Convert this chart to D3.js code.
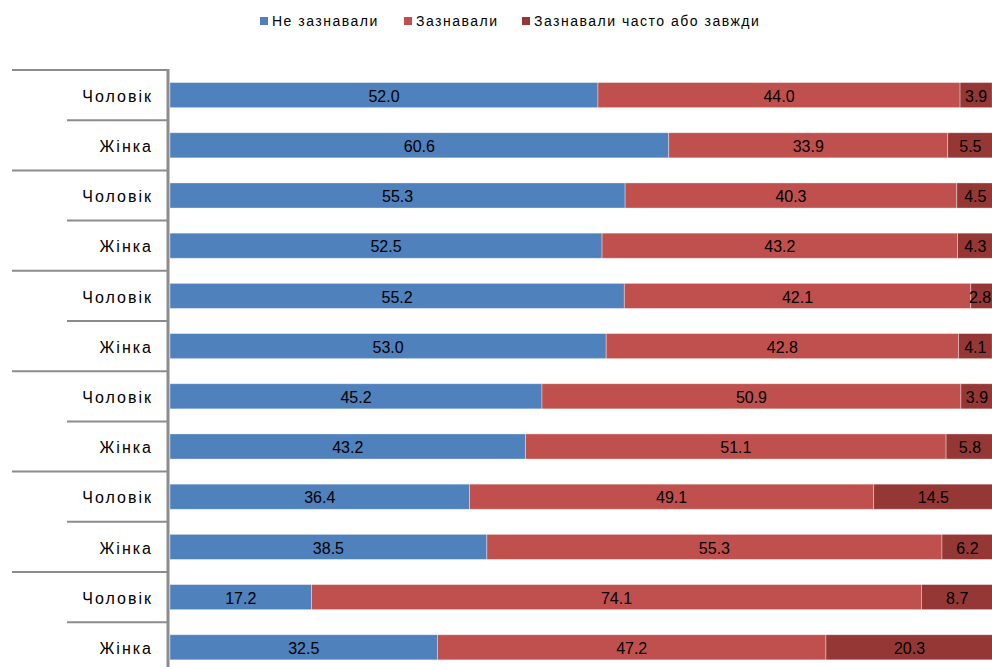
<!DOCTYPE html>
<html>
<head>
<meta charset="utf-8">
<script src="https://cdn.jsdelivr.net/npm/d3@7"></script>
<style>
  html, body { margin: 0; padding: 0; background: #fff; }
  svg { display: block; font-family: "Liberation Sans", Arial, sans-serif; }
</style>
</head>
<body>
<svg id="chart" width="992" height="667"></svg>
<script>
const categories = ["Чоловік","Жінка","Чоловік","Жінка","Чоловік","Жінка","Чоловік","Жінка","Чоловік","Жінка","Чоловік","Жінка"];
const seriesNames = ["Не зазнавали", "Зазнавали", "Зазнавали часто або завжди"];
const notExperienced = [52.0, 60.6, 55.3, 52.5, 55.2, 53.0, 45.2, 43.2, 36.4, 38.5, 17.2, 32.5];
const experienced    = [44.0, 33.9, 40.3, 43.2, 42.1, 42.8, 50.9, 51.1, 49.1, 55.3, 74.1, 47.2];
const oftenAlways    = [3.9, 5.5, 4.5, 4.3, 2.8, 4.1, 3.9, 5.8, 14.5, 6.2, 8.7, 20.3];
const colors = ["#4F81BD", "#C0504D", "#953735"];

const svg = d3.select("#chart");
const rows = categories.map((c, i) => ({ id: i, cat: c, v: [notExperienced[i], experienced[i], oftenAlways[i]] }));

const x = d3.scaleLinear().domain([0, 100]).range([170, 993]);
const step = 50.2;
const y = d3.scaleBand().domain(rows.map(r => r.id)).range([70, 70 + step * rows.length])
  .paddingInner(0.5).paddingOuter(0.25);

const stack = d3.stack().keys([0, 1, 2]).value((d, k) => d.v[k]);
const series = stack(rows);

const g = svg.append("g");
series.forEach((s, si) => {
  g.selectAll(null).data(s).enter().append("rect")
    .attr("x", d => x(d[0]))
    .attr("y", d => y(d.data.id))
    .attr("width", d => x(d[1]) - x(d[0]))
    .attr("height", y.bandwidth())
    .attr("fill", colors[si])
    .attr("stroke", "rgba(255,255,255,0.45)")
    .attr("stroke-width", 0.8);
});

// value labels
series.forEach((s, si) => {
  g.selectAll(null).data(s).enter().append("text")
    .attr("x", d => Math.min((x(d[0]) + x(d[1])) / 2, 980))
    .attr("y", d => y(d.data.id) + y.bandwidth() / 2 + 1)
    .attr("dy", "0.36em")
    .attr("text-anchor", "middle")
    .attr("font-size", 16)
    .attr("fill", "#000")
    .text(d => d.data.v[si].toFixed(1));
});

// category axis
const boundaries = d3.range(rows.length + 1);
svg.append("g").selectAll("line").data(boundaries).enter().append("line")
  .attr("x1", k => k % 2 === 0 ? 12 : 67)
  .attr("x2", 169)
  .attr("y1", k => 70 + k * step)
  .attr("y2", k => 70 + k * step)
  .attr("stroke", "#8c8c8c")
  .attr("stroke-width", 2);

svg.append("line")
  .attr("x1", 168).attr("x2", 168)
  .attr("y1", 69).attr("y2", 667)
  .attr("stroke", "#8c8c8c").attr("stroke-width", 3);

svg.append("g").selectAll("text").data(rows).enter().append("text")
  .attr("x", 153)
  .attr("y", d => y(d.id) + y.bandwidth() / 2 + 1)
  .attr("dy", "0.36em")
  .attr("text-anchor", "end")
  .attr("font-size", 16)
  .attr("letter-spacing", 2)
  .attr("fill", "#000")
  .text(d => d.cat);

// legend
const legendX = [260, 404, 522];
const lg = svg.append("g");
seriesNames.forEach((n, i) => {
  lg.append("rect").attr("x", legendX[i]).attr("y", 17).attr("width", 8).attr("height", 8).attr("fill", colors[i]);
  lg.append("text").attr("x", legendX[i] + 12).attr("y", 21).attr("dy", "0.36em")
    .attr("font-size", 14).attr("letter-spacing", 1.5).attr("fill", "#000").text(n);
});
</script>
</body>
</html>
